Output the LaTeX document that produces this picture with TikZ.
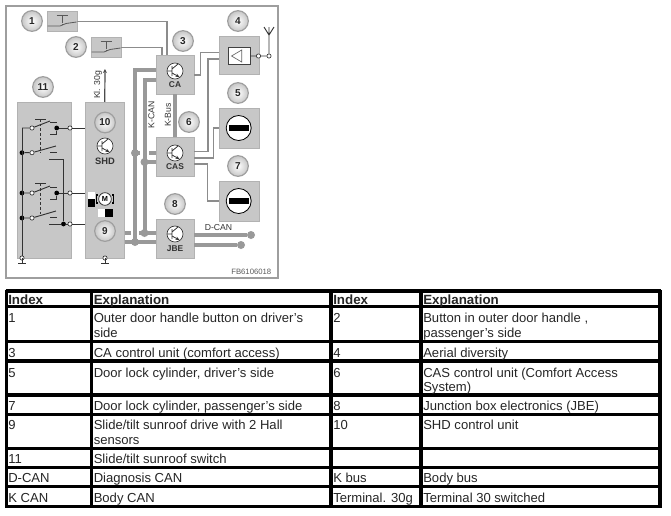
\documentclass[tikz,border=0pt]{standalone}
\usepackage{fontspec}
\setmainfont{Liberation Sans}
\usetikzlibrary{arrows.meta,calc}
\definecolor{boxgray}{gray}{0.78}
\definecolor{framegray}{gray}{0.62}
\definecolor{busgray}{gray}{0.6}
\definecolor{wiregray}{gray}{0.55}
\newcommand{\tcell}[3]{\node[cell] at (#1,#2) {#3};}
\newcommand{\hcell}[3]{\node[cell,font=\fontsize{10}{12}\selectfont\bfseries] at (#1,#2) {#3};}
\newcommand{\apos}{\char"27 }
\tikzset{
  boxr/.style 2 args={fill=boxgray,draw=gray!60,line width=.3pt,inner sep=0pt,minimum width={#1*0.75pt},minimum height={#2*0.75pt}},
  ball/.style={circle,inner sep=0pt,minimum size=15.5pt,draw=gray!75,line width=.9pt,shading=radial,inner color=white,outer color=gray!45,font=\fontsize{7.5}{8}\selectfont\bfseries,text=black!85},
  frameline/.style={draw=framegray,line width=1.9pt},
  bus/.style={draw=busgray,line width=3pt},
  wire/.style={draw=wiregray,line width=1.1pt},
  darkwire/.style={draw=black!70,line width=.9pt},
  swline/.style={draw=black!80,line width=.7pt},
  btnline/.style={draw=black!65,line width=.6pt},
  junction/.style={circle,fill=busgray,inner sep=0pt,minimum size=6pt},
  dotb/.style={circle,fill=black,inner sep=0pt,minimum size=3.6pt},
  dotw/.style={circle,fill=white,draw=black!80,line width=.5pt,inner sep=0pt,minimum size=3.2pt},
  lab/.style={font=\fontsize{6.5}{7}\selectfont,text=black!80},
  unitlab/.style={font=\fontsize{6.3}{7}\selectfont\bfseries,text=black!80},
  cell/.style={anchor=base west,inner sep=0pt,font=\fontsize{9.8}{12}\selectfont,text=black!85},
  rule/.style={draw=black,line width=2.3pt},
  transistor/.pic={
    \draw[fill=white,draw=black!80,line width=.5pt] (0,0) circle (8);
    \draw[black!80,line width=.6pt] (-3,-5) -- (-3,5) (-8,0) -- (-3,0) (-3,-2) -- (3,-7);
    \draw[black!80,line width=.6pt,-{Stealth[length=3pt,width=2.5pt]}] (-3,2) -- (4.5,6);
  },
  lockface/.pic={
    \draw[fill=white,draw=black,line width=.6pt] (0,0) circle (12.5);
    \fill[black] (-10,-2.7) rectangle (10,2.7);
  },
  grounding/.pic={
    \draw[swline] (0,0) -- (0,5) (-4,5) -- (4,5);
  },
  pushbutton/.pic={
    \draw[btnline] (-5.5,-5.8) -- (5.5,-5.8) (0,-5.8) -- (0,0);
    \draw[btnline,dash pattern=on 1pt off .8pt] (0,0) -- (0,3);
    \draw[btnline] (-14.5,4.5) -- (-2,4.5) -- (4,2) -- (14.5,.5);
  }
}
\begin{document}
\begin{tikzpicture}[x=0.75pt,y=-0.75pt]
\useasboundingbox (0,0) rectangle (671,515);
% frame
\draw[frameline] (6,6) rectangle (278,278);
% boxes
\node[boxr={29.5}{20}] (b1) at (62,21.5) {};
\node[boxr={30}{20}] (b2) at (106,47.5) {};
\node[boxr={54}{156}] (b11) at (44,180) {};
\node[boxr={39.5}{156}] (b10) at (104.75,180) {};
\node[boxr={38}{39}] (ca) at (175,74.5) {};
\node[boxr={38}{39}] (cas) at (175,156.5) {};
\node[boxr={38}{39}] (jbe) at (175,238.5) {};
\node[boxr={40}{38.5}] (b4) at (238.7,55.25) {};
\node[boxr={40}{40}] (b5) at (238.7,128) {};
\node[boxr={40}{40}] (b7) at (238.7,201) {};
% balls
\node[ball] (n1) at (32,21) {1};
\node[ball] (n2) at (76,47) {2};
\node[ball] (n3) at (183,41) {3};
\node[ball] (n4) at (238,21) {4};
\node[ball] (n5) at (238,93) {5};
\node[ball] (n6) at (189,122) {6};
\node[ball] (n7) at (238,166) {7};
\node[ball] (n8) at (175,204) {8};
\node[ball] (n9) at (105,231) {9};
\node[ball] (n10) at (105,122.5) {10};
\node[ball] (n11) at (43,87) {11};
% anchor coordinates
\coordinate (caT1) at (167,55);
\coordinate (caT2) at (162,55);
\coordinate (caE) at (194,75);
\coordinate (b4W1) at (218.7,52.5);
\coordinate (b4W2) at (218.7,59);
\coordinate (casE1) at (194,151.5);
\coordinate (casE2) at (194,158);
\coordinate (casE3) at (194,164);
% door wires
\draw[wire] (b1.east) -| (caT1);
\draw[wire] (b2.east) -| (caT2);
\draw[wire] (caE) -- (200.7,75) |- (b4W1);
\draw[wire] (casE1) -- (208,151.5) |- (b4W2);
\draw[wire] (casE2) -- (213.3,158) |- (b5.west);
\draw[wire] (casE3) -- (207.5,164) |- (b7.west);
% button symbols
\pic at (b1.center) {pushbutton};
\pic at (b2.center) {pushbutton};
% buses
\coordinate (kcanTop) at (135,70);
\coordinate (kbusTop) at (144.5,80);
\coordinate (kcanBot) at (135,242);
\coordinate (kbusBot) at (144.5,233);
\draw[bus] (ca.west |- kcanTop) -- (kcanTop) -- (kcanBot);
\draw[bus] (ca.west |- kbusTop) -- (kbusTop) -- (kbusBot);
\draw[bus] (ca.south) -- (cas.north);
\draw[bus] (135,153) -- (140,153) (149,153) -- (cas.west |- 0,153);
\draw[bus] (kbusBot |- 0,162) -- (cas.west |- 0,162);
\draw[bus] (b10.east |- 0,233) -- (131,233) (139,233) -- (jbe.west |- 0,233);
\draw[bus] (b10.east |- 0,242) -- (jbe.west |- 0,242);
\node[junction] (j1) at (135,153) {};
\node[junction] (j2) at (144.5,162) {};
\node[junction] (j3) at (144.5,233) {};
\node[junction] (j4) at (135,242) {};
\node[junction] (dcan1) at (251,235) {};
\node[junction] (dcan2) at (241,245) {};
\draw[bus] (jbe.east |- dcan1) -- (dcan1);
\draw[bus] (jbe.east |- dcan2) -- (dcan2);
% unit symbols
\pic at (175,71) {transistor};
\pic at (175,153) {transistor};
\pic at (175,234) {transistor};
\pic at (105,146) {transistor};
\node[unitlab] (tca) at (175,85) {CA};
\node[unitlab] (tcas) at (175,167) {CAS};
\node[unitlab] (tjbe) at (175,249) {JBE};
\node[unitlab,font=\fontsize{7}{8}\selectfont\bfseries] (tshd) at (105,161) {SHD};
% terminal
\coordinate (klTop) at (105,69);
\draw[darkwire,-{Stealth[length=3pt,width=3pt]}] (b10.north) -- (klTop);
\node[lab,rotate=90] (kl) at (98,85) {Kl. 30g};
\node[lab,rotate=90] (kcan) at (151.5,115) {K-CAN};
\node[lab,rotate=90] (kbus) at (168,115) {K-Bus};
\node[lab] (dcan) at (218.5,228) {D-CAN};
\node[lab,font=\fontsize{5.8}{6}\selectfont,anchor=east,text=black!65] (ref) at (276,272) {FB6106018};
% aerial
\node[draw=black!75,fill=white,line width=.5pt,inner sep=0pt,minimum width=16.5pt,minimum height=12.4pt] (amp) at (239,56) {};
\draw[black!60,line width=.5pt] (231.5,56) -- (241.7,50) -- (241.7,62) -- cycle;
\node[dotw] (a1) at (258.5,56) {};
\node[dotw] (a2) at (269,56) {};
\coordinate (aerial) at (269,35);
\draw[swline] (amp.east) -- (a1) -- (a2) -- (aerial) -- (264,27) (aerial) -- (274,27) (aerial) -- (269,27);
% locks
\pic at (b5.center) {lockface};
\pic at (b7.center) {lockface};
% motor
\fill[white] (88,192) rectangle (95,199);
\fill[black] (88,199) rectangle (95,207);
\fill[white] (97.5,209) rectangle (105,217);
\fill[black] (105,209) rectangle (113,217);
\node[circle,draw=black!80,fill=white,line width=.6pt,inner sep=0pt,minimum size=9.5pt,font=\fontsize{5.5}{6}\selectfont\bfseries] (mot) at (105,199) {M};
\draw[black,line width=.9pt] (98,195) -- (96.5,195) -- (96.5,203) -- (98,203) (112,195) -- (113.5,195) -- (113.5,203) -- (112,203);
% sunroof switch
\node[dotb] (g1) at (22,152.7) {};
\node[dotb] (g2) at (22,193) {};
\node[dotb] (g3) at (22,218) {};
\node[dotw] (gnd1) at (22,258) {};
\node[dotw] (gnd2) at (105,258) {};
\pic at (gnd1) {grounding};
\pic at (gnd2) {grounding};
\coordinate (sTop) at (22,128);
\draw[swline] (sTop) -- (gnd1);
\node[dotw] (o1) at (32,128) {};
\node[dotw] (o2) at (32,152.7) {};
\node[dotw] (o3) at (32,193) {};
\node[dotw] (o4) at (32,218) {};
\draw[swline] (sTop) -- (o1) -- (50,121);
\draw[swline] (g1) -- (o2) -- (56,146);
\draw[swline] (g2) -- (o3) -- (50,186);
\draw[swline] (g3) -- (o4) -- (56,211);
\draw[swline] (35,119) -- (46,119) (35,183.5) -- (46,183.5);
\draw[swline,dash pattern=on 2pt off 1.5pt] (40.7,119) -- (40.7,152) (40.7,183.5) -- (40.7,216);
\node[dotb] (c1) at (56.7,128) {};
\node[dotb] (c2) at (56.7,193) {};
\node[dotb] (c3) at (63.5,224) {};
\node[dotw] (t1) at (70,128) {};
\node[dotw] (t2) at (70,193) {};
\node[dotw] (t3) at (70,224) {};
\draw[swline] (50,122.5) -- (57,122.5) (50,187.5) -- (57,187.5) (50,152) -- (57,152) (50,217) -- (57,217);
\draw[swline] (c1) -- (t1) -- (b10.west |- t1);
\draw[swline] (c2) -- (t2) -- (b10.west |- t2);
\draw[swline] (c3) -- (t3) -- (b10.west |- t3);
\draw[swline] (c1) -- (56.7,134) -- (50,134);
\draw[swline] (c2) -- (56.7,199) -- (50,199);
\draw[swline] (49,159) -- (63.5,159) -- (c3) -- (49,224);
% table rules
\foreach \y in {291,306.7,341.7,361,395,414.3,448.3,467.7,486.7,506.7}{\draw[rule] (5.5,\y) -- (661,\y);}
\foreach \x in {6.5,91.2,331,421,660}{\draw[rule] (\x,290) -- (\x,507.7);}
% table text
\hcell{8}{304}{Index}\hcell{93.5}{304}{Explanation}\hcell{333}{304}{Index}\hcell{423}{304}{Explanation}
\tcell{8}{322}{1}\tcell{93.5}{322}{Outer door handle button on driver\apos s}\tcell{93.5}{337}{side}
\tcell{333}{322}{2}\tcell{423}{322}{Button in outer door handle ,}\tcell{423}{337}{passenger\apos s side}
\tcell{8}{357}{3}\tcell{93.5}{357}{CA control unit (comfort access)}\tcell{333}{357}{4}\tcell{423}{357}{Aerial diversity}
\tcell{8}{377}{5}\tcell{93.5}{377}{Door lock cylinder, driver\apos s side}\tcell{333}{377}{6}\tcell{423}{377}{CAS control unit (Comfort Access}\tcell{423}{391}{System)}
\tcell{8}{410}{7}\tcell{93.5}{410}{Door lock cylinder, passenger\apos s side}\tcell{333}{410}{8}\tcell{423}{410}{Junction box electronics (JBE)}
\tcell{8}{429}{9}\tcell{93.5}{429}{Slide/tilt sunroof drive with 2 Hall}\tcell{93.5}{444}{sensors}\tcell{333}{429}{10}\tcell{423}{429}{SHD control unit}
\tcell{8}{463}{11}\tcell{93.5}{463}{Slide/tilt sunroof switch}
\tcell{8}{482}{D-CAN}\tcell{93.5}{482}{Diagnosis CAN}\tcell{333}{482}{K bus}\tcell{423}{482}{Body bus}
\tcell{8}{502}{K CAN}\tcell{93.5}{502}{Body CAN}\tcell{333}{502}{Terminal. 30g}\tcell{423}{502}{Terminal 30 switched}
\end{tikzpicture}
\end{document}
